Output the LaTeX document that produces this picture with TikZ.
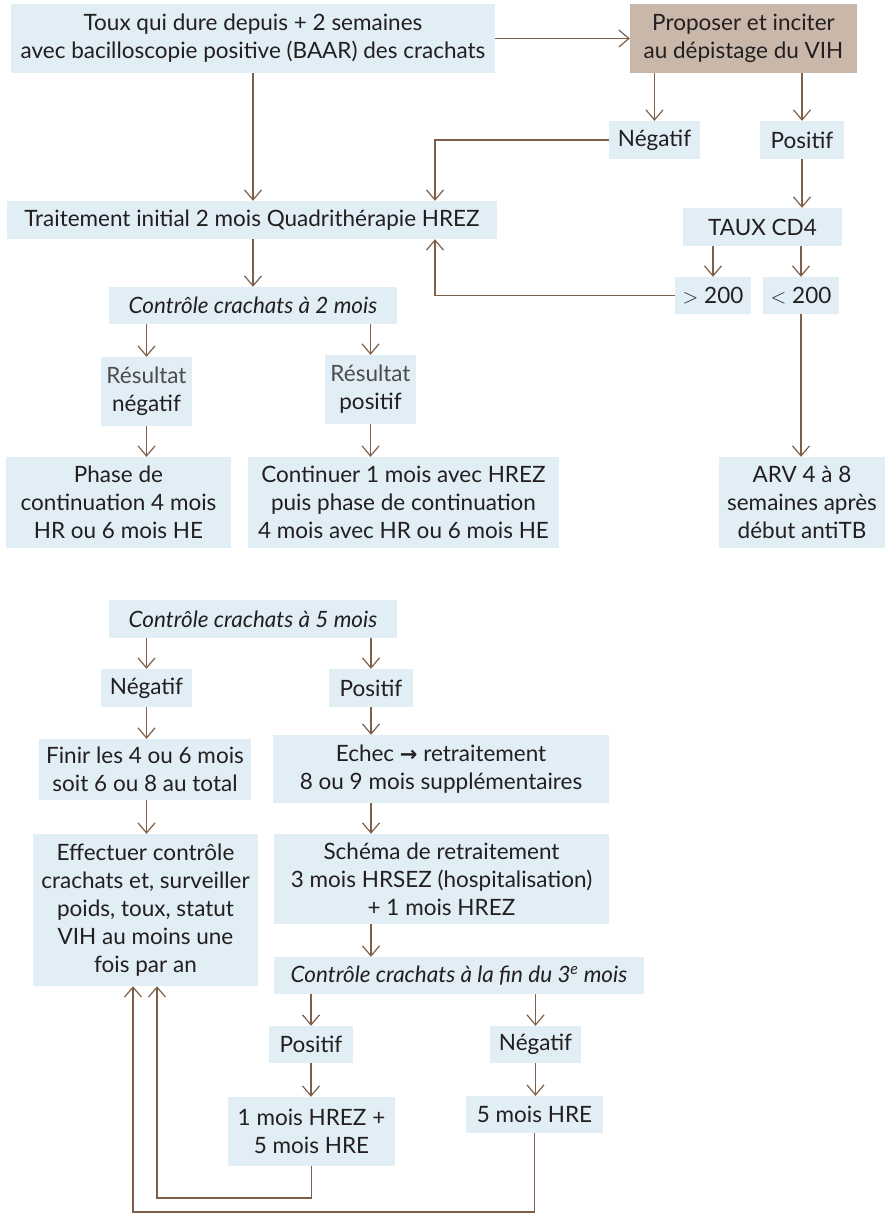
\documentclass[tikz,border=0pt]{standalone}
\usepackage{fontspec}
\setmainfont{Lato}
\newfontfamily\arrowfont{DejaVu Sans}
\usetikzlibrary{arrows.meta,positioning,calc}
\definecolor{boxblue}{HTML}{E1EEF6}
\definecolor{boxbrown}{HTML}{C9B8AA}
\definecolor{arrbrown}{HTML}{7D5F4A}
\definecolor{txtdark}{HTML}{231F20}
\tikzset{
  box style/.style={rectangle, fill=boxblue, inner sep=0pt, align=center,
    text=txtdark, font=\fontsize{22.5}{28}\selectfont},
  vih style/.style={box style, fill=boxbrown},
  box size/.style 2 args={minimum width=#1pt, minimum height=#2pt},
  arr style/.style={-{Straight Barb[length=10pt,width=17pt]}, line width=1.2pt, draw=arrbrown}
}
\begin{document}
\begin{tikzpicture}[x=1pt,y=-1pt]
\useasboundingbox (0,0) rectangle (885,1213);
% first part
\node[box style, box size={484}{69}] (toux) at (253,38.5)
  {Toux qui dure depuis + 2 semaines\\avec bacilloscopie positive (BAAR) des crachats};
\node[vih style, box size={227}{69}] (vih) at (743.5,38.5)
  {Proposer et inciter\\au dépistage du VIH};
\node[box style, box size={91}{38}] (neg1) at (654.5,140) {Négatif};
\node[box style, box size={84}{38}] (pos1) at (802,140) {Positif};
\node[box style, box size={490}{38}] (trait) at (252,220)
  {Traitement initial 2 mois Quadrithérapie HREZ};
\node[box style, box size={159}{38}] (cd4) at (762.5,227) {TAUX CD4};
\node[box style, box size={76}{37}] (sup) at (713,295.5) {$>$ 200};
\node[box style, box size={76}{37}] (inf) at (801,295.5) {$<$ 200};
\node[box style, box size={166}{91}] (arv) at (802,502.5)
  {ARV 4 à 8\\semaines après\\début antiTB};
\node[box style, box size={288}{37}] (ctl2) at (253,305.5)
  {\itshape Contrôle crachats à 2 mois};
\node[box style, box size={91}{69}] (resneg) at (146.5,391.5)
  {{\color{black!70}Résultat}\\négatif};
\node[box style, box size={91}{69}] (respos) at (370.5,389.5)
  {{\color{black!70}Résultat}\\positif};
\node[box style, box size={225}{91}] (phase) at (118.5,502.5)
  {Phase de\\continuation 4 mois\\HR ou 6 mois HE};
\node[box style, box size={311}{91}] (cont) at (403.5,502.5)
  {Continuer 1 mois avec HREZ\\puis phase de continuation\\4 mois avec HR ou 6 mois HE};
% second part
\node[box style, box size={288}{38}] (ctl5) at (253,619)
  {\itshape Contrôle crachats à 5 mois};
\node[box style, box size={91}{38}] (neg2) at (146.5,688) {Négatif};
\node[box style, box size={84}{38}] (pos2) at (371,688) {Positif};
\node[box style, box size={212}{61}] (finir) at (145,769.5)
  {Finir les 4 ou 6 mois\\soit 6 ou 8 au total};
\node[box style, box size={336}{68}] (echec) at (441,769)
  {Echec {\arrowfont\bfseries\fontsize{21}{28}\selectfont →} retraitement\\8 ou 9 mois supplémentaires};
\node[box style, box size={225}{152}] (effect) at (145.5,910)
  {Effectuer contrôle\\crachats et, surveiller\\poids, toux, statut\\VIH au moins une\\fois par an};
\node[box style, box size={335}{90}] (schema) at (441.5,879)
  {Schéma de retraitement\\3 mois HRSEZ (hospitalisation)\\+ 1 mois HREZ};
\node[box style, box size={370}{37}] (ctl3) at (459,975.5)
  {\itshape Contrôle crachats à la fin du 3\textsuperscript{e} mois};
\node[box style, box size={84}{37}] (pos3) at (311,1044.5) {Positif};
\node[box style, box size={91}{37}] (neg3) at (535.5,1044.5) {Négatif};
\node[box style, box size={167}{69}] (hrez) at (311.5,1131.5)
  {1 mois HREZ +\\5 mois HRE};
\node[box style, box size={137}{37}] (hre) at (534.5,1114.5) {5 mois HRE};
% connectors
\coordinate (loop) at (435,0);
\coordinate (back1) at (157,1198);
\coordinate (back2) at (133,1212);
\draw[arr style] (toux) -- (vih);
\draw[arr style] (toux.south) -- (toux.south |- trait.north);
\draw[arr style] (neg1 |- vih.south) -- (neg1.north);
\draw[arr style] (pos1 |- vih.south) -- (pos1.north);
\draw[arr style] (neg1.west) -| (loop |- trait.north);
\draw[arr style] (pos1.south) -- (pos1.south |- cd4.north);
\draw[arr style] (sup |- cd4.south) -- (sup.north);
\draw[arr style] (inf |- cd4.south) -- (inf.north);
\draw[arr style] (sup.west) -| (loop |- trait.south);
\draw[arr style] (inf.south) -- (inf.south |- arv.north);
\draw[arr style] (ctl2 |- trait.south) -- (ctl2.north);
\draw[arr style] (resneg |- ctl2.south) -- (resneg.north);
\draw[arr style] (respos |- ctl2.south) -- (respos.north);
\draw[arr style] (resneg.south) -- (resneg.south |- phase.north);
\draw[arr style] (respos.south) -- (respos.south |- cont.north);
\draw[arr style] (neg2 |- ctl5.south) -- (neg2.north);
\draw[arr style] (pos2 |- ctl5.south) -- (pos2.north);
\draw[arr style] (neg2.south) -- (neg2.south |- finir.north);
\draw[arr style] (pos2.south) -- (pos2.south |- echec.north);
\draw[arr style] (neg2.south |- finir.south) -- (neg2.south |- effect.north);
\draw[arr style] (pos2.south |- echec.south) -- (pos2.south |- schema.north);
\draw[arr style] (pos2.south |- schema.south) -- (pos2.south |- ctl3.north);
\draw[arr style] (pos3 |- ctl3.south) -- (pos3.north);
\draw[arr style] (neg3 |- ctl3.south) -- (neg3.north);
\draw[arr style] (pos3.south) -- (pos3.south |- hrez.north);
\draw[arr style] (neg3.south) -- (neg3.south |- hre.north);
\draw[arr style] (hrez.south) |- (back1) -- (back1 |- effect.south);
\draw[arr style] (hre.south) |- (back2) -- (back2 |- effect.south);
\end{tikzpicture}
\end{document}
